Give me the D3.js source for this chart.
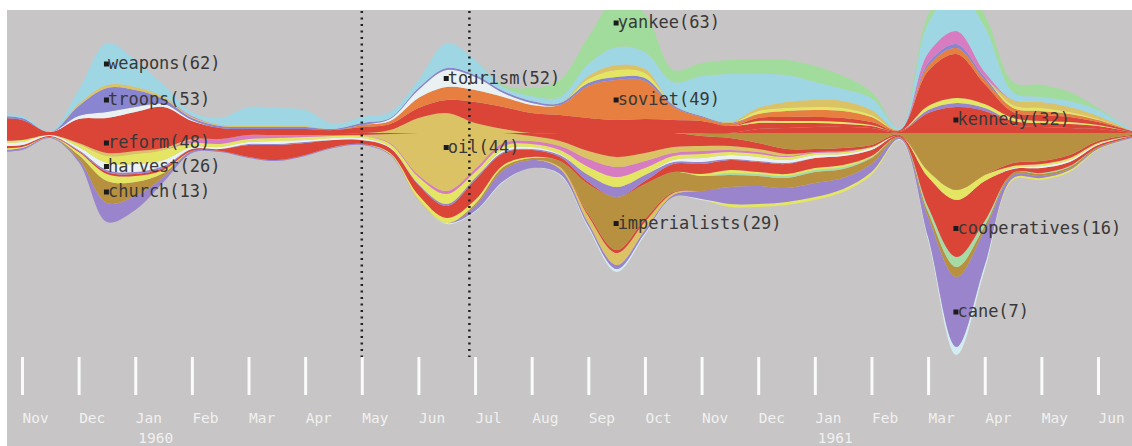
<!DOCTYPE html>
<html>
<head>
<meta charset="utf-8">
<script src="https://cdn.jsdelivr.net/npm/d3@7"></script>
<style>
  body { margin: 0; background: #fff; }
  svg { display: block; }
</style>
</head>
<body>
<div id="river"></div>
<script>

// sample times, in months after 1 Nov 1959 (one sample every half month)
var times = [-0.5,0,0.5,1,1.5,2,2.5,3,3.5,4, 4.5,5,5.5,6,6.5,7,7.5,8,8.5,9,
             9.5,10,10.5,11,11.5,12,12.5,13,13.5,14, 14.5,15,15.5,16,16.5,17,17.5,18,18.5,19, 19.6];

var monthLabels = ["Nov","Dec","Jan","Feb","Mar","Apr","May","Jun","Jul","Aug",
                   "Sep","Oct","Nov","Dec","Jan","Feb","Mar","Apr","May","Jun"];
var yearLabels = [{at: 2, text: "1960"}, {at: 14, text: "1961"}];
var dividers = [6, 7.9];

// terms stacked above the centre line (centre outwards)
var sugar       = [0,0,0,0,0,0,0,0,0,0, 0,0,0,0,3,15,20,10,4,0, 0,0,0,0,0,0,0,0,0,0, 0,0,0,0,0,0,0,0,0,0, 0];
var kennedy     = [0,0,0,0,0,0,0,0,0,0, 0,0,0,0,0,0,0,0,0,0, 0,0,0,0,0,0,0,4,5,6, 6,5,1,20,26,22,8,6,5,4, 0];
var castro      = [15,13,1,14,15,21,26,12,5,4, 4,4,3,6,6,10,13,21,22,20, 18,15,13,14,13,12,7,6,5,4, 3,2,1,0,0,0,4,4,4,3, 1];
var mercenaries = [0,0,0,0,0,0,0,0,0,0, 0,0,0,0,0,0,0,0,0,0, 0,0,0,0,0,0,0,0,0,0, 0,0,0,3,4,3,0,0,0,0, 0];
var unity       = [0,0,0,0,0,0,0,0,0,0, 0,0,0,0,0,0,0,0,0,0, 0,0,0,0,0,0,0,2,2,2, 2,1,0,4,5,4,3,2,2,1, 0];
var revolution  = [0,0,0,0,0,0,0,0,0,0, 0,0,0,0,0,0,0,0,0,0, 0,0,0,0,0,0,0,3,4,4, 4,3,1,35,44,20,6,6,5,3, 1];
var soviet      = [0,0,0,0,0,0,0,0,0,0, 0,0,0,2,3,10,13,12,10,8, 10,32,40,38,13,4,2,4,6,7, 7,5,0,5,6,4,4,4,3,2, 0];
var tourism     = [0,0,0,3,6,5,3,1,0,0, 0,0,0,0,2,8,17,13,4,2, 0,0,0,0,0,0,0,0,0,0, 0,0,0,0,0,0,0,0,0,0, 0];
var troops      = [2,2,0,10,24,17,5,2,2,2, 2,2,1,2,1,2,2,2,2,2, 2,3,3,3,2,1,1,0,0,0, 0,0,0,3,4,3,0,0,0,0, 0];
var invasion    = [0,0,0,0,0,0,0,0,0,0, 0,0,0,0,0,0,0,0,0,0, 0,4,7,5,0,0,0,3,3,3, 3,2,0,0,0,0,3,3,2,1, 0];
var arms        = [0,0,0,2,3,3,2,1,1,1, 1,1,0,0,0,0,0,0,0,0, 0,3,5,4,0,0,1,3,6,7, 7,5,0,0,0,0,5,6,5,3, 0];
var imports     = [0,0,0,0,0,0,0,1,0,0, 0,0,0,0,0,0,0,0,0,0, 0,0,0,0,0,0,0,0,0,0, 0,0,0,10,13,5,0,0,0,0, 0];
var weapons     = [3,2,1,14,42,27,12,4,7,19, 18,16,5,6,6,8,25,15,4,5, 6,12,18,17,23,40,48,34,27,18, 12,12,2,30,40,45,8,5,6,6, 1];
var yankee      = [0,0,0,0,0,0,0,0,0,0, 0,0,0,0,0,0,0,0,2,8, 17,27,48,38,12,13,14,15,15,16, 13,6,0,8,11,12,10,12,9,2, 0];

// terms stacked below the centre line (centre outwards)
var economy      = [0,0,0,0,0,0,0,0,0,0, 0,0,0,0,0,0,0,0,0,0, 0,0,0,0,0,3,5,10,16,16, 15,12,2,38,57,42,30,28,22,8, 2];
var reform       = [8,7,2,10,20,18,15,6,6,2, 2,2,2,2,1,0,0,0,0,3, 8,18,24,20,14,10,8,6,5,3, 3,2,1,0,0,0,3,3,3,2, 1];
var oil          = [0,0,0,1,3,3,2,1,0,0, 0,0,0,1,5,22,29,19,6,5, 5,8,10,8,6,5,4,3,2,0, 0,0,0,0,0,0,0,0,0,0, 0];
var exports      = [0,0,0,0,0,0,0,0,0,0, 0,0,0,0,4,20,29,17,4,0, 0,0,0,0,0,0,0,0,0,0, 0,0,0,0,0,0,0,0,0,0, 0];
var sabotage     = [0,0,0,0,0,0,0,3,5,4, 3,2,1,0,1,2,3,3,3,3, 4,8,10,7,3,3,2,2,1,1, 1,0,0,0,0,0,0,0,0,0, 0];
var rice         = [2,2,0,3,7,10,10,4,3,3, 3,3,2,2,3,7,10,6,4,3, 4,8,10,7,4,4,3,3,3,2, 2,1,0,6,10,6,2,2,2,1, 0];
var harvest      = [3,3,1,3,7,8,6,2,2,2, 3,2,2,2,1,0,0,0,2,2, 1,0,0,0,2,4,4,4,3,3, 2,2,0,0,0,0,1,2,2,1, 0];
var militia      = [0,0,0,1,2,2,2,0,0,1, 1,1,0,0,0,1,2,2,1,1, 2,7,10,6,2,2,1,1,1,0, 0,0,0,0,0,0,0,0,0,0, 0];
var cooperatives = [2,2,1,1,2,2,2,2,2,12, 15,12,7,4,5,10,12,20,12,7, 4,2,0,3,8,10,10,10,10,10, 9,6,1,30,57,40,4,5,4,2, 1];
var peasants     = [2,1,0,3,7,6,3,0,0,0, 0,0,0,0,1,4,5,4,2,1, 0,0,0,0,0,2,3,2,2,2, 2,1,0,0,0,0,0,0,0,0, 0];
var unions       = [0,0,0,0,0,0,0,0,0,0, 0,0,0,0,0,0,0,0,0,0, 0,0,0,0,0,0,2,2,2,2, 2,1,0,5,10,5,0,1,1,0, 0];
var imperialists = [0,0,0,0,0,0,0,0,0,0, 0,0,0,0,0,0,0,2,3,2, 6,30,53,35,20,15,12,10,10,11, 9,6,1,5,10,4,2,2,2,1, 0];
var church       = [0,0,0,4,22,14,4,0,0,0, 0,0,0,0,0,0,0,0,0,0, 0,0,0,0,0,0,0,0,0,0, 0,0,0,0,0,0,0,0,0,0, 0];
var landlords    = [0,0,0,0,0,0,0,0,0,0, 0,0,0,0,0,0,0,0,0,0, 0,2,3,3,1,0,0,0,0,0, 0,0,0,0,0,0,0,0,0,0, 0];
var rum          = [0,0,0,0,0,0,0,0,0,0, 0,0,0,0,0,1,0,0,0,0, 2,7,12,8,2,0,0,0,0,0, 0,0,0,0,0,0,0,0,0,0, 0];
var cane         = [2,2,1,3,19,14,5,2,1,1, 1,1,1,1,1,0,0,5,11,8, 5,3,4,3,2,8,17,18,14,14, 11,8,1,20,70,35,3,2,1,1, 1];
var militants    = [0,0,0,0,0,0,0,0,0,0, 0,0,0,0,0,0,1,1,1,0, 1,2,3,2,0,1,0,0,0,0, 0,0,1,3,8,5,0,0,0,0, 0];
var workers      = [0,0,0,0,0,0,0,0,0,0, 0,0,0,0,0,0,0,0,0,0, 0,0,0,0,0,0,3,3,3,3, 3,3,0,0,0,0,2,2,2,1, 0];

// labelled terms: word, count, month where the label sits
var labels = [
  {term: "weapons", count: 62, at: 1.5},
  {term: "troops", count: 53, at: 1.5},
  {term: "reform", count: 48, at: 1.5},
  {term: "harvest", count: 26, at: 1.5},
  {term: "church", count: 13, at: 1.5},
  {term: "tourism", count: 52, at: 7.5},
  {term: "oil", count: 44, at: 7.5},
  {term: "yankee", count: 63, at: 10.5},
  {term: "soviet", count: 49, at: 10.5},
  {term: "imperialists", count: 29, at: 10.5},
  {term: "kennedy", count: 32, at: 16.5},
  {term: "cooperatives", count: 16, at: 16.5},
  {term: "cane", count: 7, at: 16.5}
];

var series = {
  sugar: sugar, kennedy: kennedy, castro: castro, mercenaries: mercenaries, unity: unity,
  revolution: revolution, soviet: soviet, tourism: tourism, troops: troops, invasion: invasion,
  arms: arms, imports: imports, weapons: weapons, yankee: yankee,
  economy: economy, reform: reform, oil: oil, exports: exports, sabotage: sabotage, rice: rice,
  harvest: harvest, militia: militia, cooperatives: cooperatives, peasants: peasants,
  unions: unions, imperialists: imperialists, church: church, landlords: landlords, rum: rum,
  cane: cane, militants: militants, workers: workers
};
var upperTerms = ["sugar","kennedy","castro","mercenaries","unity","revolution","soviet",
                  "tourism","troops","invasion","arms","imports","weapons","yankee"];
var lowerTerms = ["economy","reform","oil","exports","sabotage","rice","harvest","militia",
                  "cooperatives","peasants","unions","imperialists","church","landlords",
                  "rum","cane","militants","workers"];

// colours
var LB = "#9fd6e4", GR = "#a2dc9c", BP = "#8985d0", PU = "#9a84cb", RD = "#da4537",
    OR = "#e67f3f", GD = "#dbc265", BR = "#b7913f", YL = "#e4e563", WH = "#e9f1f3",
    PK = "#d87cc2", LG = "#a7dba5", PALE = "#d3ecf3";
var colour = {
  sugar: GD, kennedy: RD, castro: RD, mercenaries: PU, unity: YL, revolution: RD, soviet: OR,
  tourism: WH, troops: BP, invasion: YL, arms: GD, imports: PK, weapons: LB, yankee: GR,
  economy: BR, reform: RD, oil: GD, exports: GD, sabotage: PK, rice: YL, harvest: WH,
  militia: PU, cooperatives: RD, peasants: YL, unions: LG, imperialists: BR, church: BR,
  landlords: RD, rum: GD, cane: PU, militants: PALE, workers: YL
};

var width = 1132, height = 446;

var svg = d3.select("#river")
  .append("svg")
    .attr("width", width)
    .attr("height", height);

svg.append("rect")
  .attr("width", width).attr("height", height)
  .attr("fill", "#fff");

svg.append("rect")
  .attr("x", 7).attr("y", 10)
  .attr("width", width - 7).attr("height", height - 10)
  .attr("fill", "#c7c5c5");

svg.append("clipPath").attr("id", "panel")
  .append("rect")
    .attr("x", 7).attr("y", 10)
    .attr("width", width - 7).attr("height", height - 10);

// scales
var x = d3.scaleLinear().domain([0, 19]).range([22, 1098]);
var y = d3.scaleLinear().domain([0, 100]).range([133, 33]);

// build the table for d3.stack: lower terms first (outermost first), then upper ones
var keys = lowerTerms.slice().reverse().concat(upperTerms);
var table = times.map(function(m, j) {
  var row = {m: m};
  keys.forEach(function(k) { row[k] = series[k][j]; });
  return row;
});
var lowerTotal = times.map(function(m, j) {
  return d3.sum(lowerTerms, function(k) { return series[k][j]; });
});

// baseline: lower terms hang below the centre line, upper terms rise above it
function riverOffset(s, order) {
  for (var j = 0; j < s[0].length; ++j) {
    var base = -lowerTotal[j];
    for (var i = 0; i < order.length; ++i) {
      var p = s[order[i]][j];
      var v = p[1] - p[0];
      p[0] = base;
      base += v;
      p[1] = base;
    }
  }
}

var stacked = d3.stack()
  .keys(keys)
  .order(d3.stackOrderNone)
  .offset(riverOffset)(table);

var area = d3.area()
  .x(function(d) { return x(d.data.m); })
  .y0(function(d) { return y(d[0]); })
  .y1(function(d) { return y(d[1]); })
  .curve(d3.curveCatmullRom.alpha(0.5));

var river = svg.append("g").attr("clip-path", "url(#panel)");

river.selectAll("path")
  .data(stacked)
  .enter()
  .append("path")
    .attr("d", area)
    .attr("fill", function(d) { return colour[d.key]; });

// dotted markers
svg.selectAll(".divider")
  .data(dividers)
  .enter()
  .append("line")
    .attr("class", "divider")
    .attr("x1", function(d) { return x(d); })
    .attr("x2", function(d) { return x(d); })
    .attr("y1", 11)
    .attr("y2", 357)
    .attr("stroke", "#222")
    .attr("stroke-width", 2.5)
    .attr("stroke-dasharray", "2,4.5");

// month axis
var axis = svg.append("g")
  .attr("transform", "translate(0,357)")
  .call(d3.axisBottom(x)
    .tickValues(d3.range(monthLabels.length))
    .tickSize(38)
    .tickFormat(function(d) { return monthLabels[d]; }));
axis.select(".domain").remove();
axis.selectAll(".tick line")
  .attr("stroke", "#fbfbfb")
  .attr("stroke-width", 3);
axis.selectAll(".tick text")
  .attr("text-anchor", "start")
  .attr("x", 0)
  .attr("y", 56)
  .attr("dy", "0.71em")
  .attr("fill", "#f1f1f1")
  .style("font-family", "DejaVu Sans Mono, monospace")
  .style("font-size", "14.5px");

svg.selectAll(".year")
  .data(yearLabels)
  .enter()
  .append("text")
    .attr("class", "year")
    .attr("x", function(d) { return x(d.at) + 3; })
    .attr("y", 443)
    .attr("fill", "#f1f1f1")
    .style("font-family", "DejaVu Sans Mono, monospace")
    .style("font-size", "14.5px")
    .text(function(d) { return d.text; });

// term labels, placed in the middle of their band
var byKey = {};
stacked.forEach(function(s) { byKey[s.key] = s; });

var tags = svg.selectAll(".tag")
  .data(labels)
  .enter()
  .append("g")
    .attr("class", "tag")
    .attr("transform", function(d) {
      var j = times.indexOf(d.at);
      var p = byKey[d.term][j];
      return "translate(" + x(d.at) + "," + y((p[0] + p[1]) / 2) + ")";
    });

tags.append("rect")
  .attr("x", -3).attr("y", -2.5)
  .attr("width", 5).attr("height", 5)
  .attr("fill", "#1b1b1b");

tags.append("text")
  .attr("x", 1)
  .attr("y", 5)
  .attr("fill", "#383838")
  .style("font-family", "DejaVu Sans Mono, monospace")
  .style("font-size", "17px")
  .text(function(d) { return d.term + "(" + d.count + ")"; });

</script>
</body>
</html>
